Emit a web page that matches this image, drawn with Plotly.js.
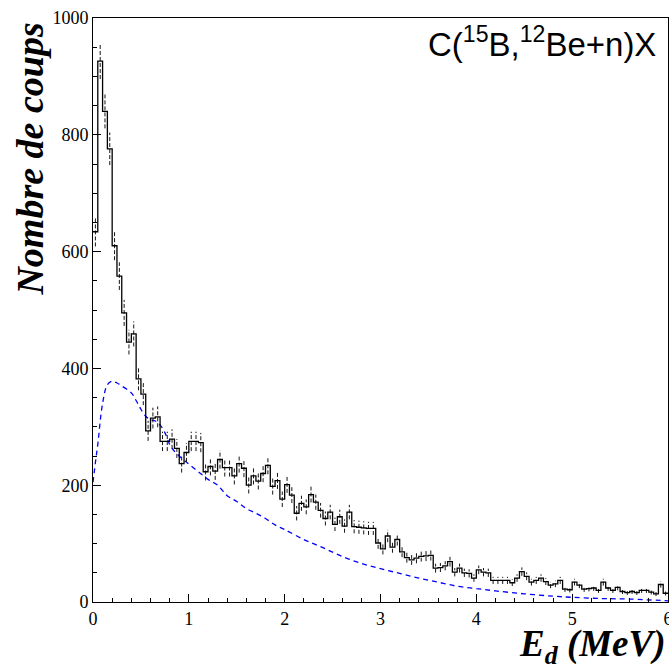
<!DOCTYPE html>
<html>
<head>
<meta charset="utf-8">
<script src="https://cdn.plot.ly/plotly-3.0.1.min.js"></script>
<style>html,body{margin:0;padding:0;background:#fff;}#chart{width:669px;height:671px;}</style>
</head>
<body>
<div id="chart"></div>
<script>
// Histogram: bin width in MeV and counts per bin
const binWidth = 0.05;
const counts = [
  634, 926, 840, 776, 610, 558, 495, 445, 459, 382,
  356, 293, 315, 317, 275, 275, 279, 263, 237, 256,
  275, 275, 273, 223, 232, 224, 244, 230, 230, 216,
  237, 229, 200, 216, 207, 220, 234, 198, 208, 176,
  201, 183, 152, 169, 163, 184, 171, 157, 143, 154,
  133, 146, 130, 154, 129, 128, 127, 126, 126, 101,
  91, 113, 94, 107, 86, 76, 72, 75, 78, 79,
  80, 58, 59, 62, 69, 51, 58, 50, 49, 41,
  55, 51, 50, 37, 37, 37, 37, 33, 41, 52,
  44, 34, 37, 41, 35, 29, 31, 37, 22, 21,
  34, 29, 22, 23, 24, 20, 34, 24, 20, 25,
  18, 16, 18, 16, 20, 20, 17, 14, 30, 15
];
// Blue dashed curve (simulation)
const curveX = [0.0, 0.03, 0.05, 0.1, 0.15, 0.2, 0.25, 0.3, 0.4, 0.45, 0.5, 0.55, 0.6, 0.65, 0.7, 0.75, 0.8, 0.85, 0.9, 1.0,
  1.1, 1.2, 1.3, 1.4, 1.5, 1.6, 1.7, 1.8, 1.9, 2.0, 2.2, 2.4, 2.6, 2.8, 3.0, 3.2, 3.4, 3.6, 3.8, 4.0,
  4.2, 4.5, 4.8, 5.0, 5.3, 5.6, 6.0];
const curveY = [205, 245, 270, 340, 372, 378, 375, 370, 358, 345, 330, 318, 312, 310, 303, 290, 270, 258, 250, 236,
  223, 210, 200, 182, 172, 160, 152, 143, 132, 124, 107, 93, 78, 66, 57, 49, 41, 34, 27, 23,
  19, 14, 10, 8, 6, 5, 2];
// Axis ticks
const xTicks = [0, 1, 2, 3, 4, 5, 6];
const yTicks = [0, 200, 400, 600, 800, 1000];

// Build step outline and error bars from the bins
const edges = counts.map((c, i) => i * binWidth);
edges.push(counts.length * binWidth);
const stepY = counts.slice();
stepY.push(counts[counts.length - 1]);

const errX = [], errY = [];
counts.forEach((c, i) => {
  const xc = (i + 0.5) * binWidth;
  const e = Math.sqrt(c);
  errX.push(xc, xc, null);
  errY.push(c - e, c + e, null);
});

const traces = [
  {x: curveX, y: curveY, type: 'scatter', mode: 'lines',
   line: {color: 'rgb(0,0,255)', width: 1.3, dash: '5px,4px', shape: 'spline'}, hoverinfo: 'skip'},
  {x: errX, y: errY, type: 'scatter', mode: 'lines',
   line: {color: 'rgb(20,20,20)', width: 1, dash: '4px,2px'}, hoverinfo: 'skip'},
  {x: edges, y: stepY, type: 'scatter', mode: 'lines',
   line: {color: 'rgb(0,0,0)', width: 1.3, shape: 'hv'}, hoverinfo: 'skip'}
];

const serif = 'Liberation Serif, Times New Roman, serif';
const layout = {
  width: 669, height: 671,
  margin: {l: 93, r: 1, t: 18, b: 69, pad: 0},
  paper_bgcolor: '#ffffff', plot_bgcolor: '#ffffff',
  showlegend: false,
  xaxis: {
    range: [0, 6], tickvals: xTicks, ticktext: xTicks.map(String),
    ticks: 'inside', ticklen: 8, tickwidth: 1, tickcolor: '#000',
    minor: {dtick: 0.2, ticks: 'inside', ticklen: 4, tickwidth: 1, tickcolor: '#000', showgrid: false},
    showline: true, mirror: true, linecolor: '#000', linewidth: 1,
    showgrid: false, zeroline: false, ticklabeloverflow: 'allow',
    tickfont: {family: serif, size: 18, color: '#000'}
  },
  yaxis: {
    range: [0, 1000], tickvals: yTicks, ticktext: yTicks.map(String),
    ticks: 'inside', ticklen: 8, tickwidth: 1, tickcolor: '#000',
    minor: {dtick: 50, ticks: 'inside', ticklen: 4, tickwidth: 1, tickcolor: '#000', showgrid: false},
    showline: true, mirror: true, linecolor: '#000', linewidth: 1,
    showgrid: false, zeroline: false, ticklabeloverflow: 'allow',
    tickfont: {family: serif, size: 18, color: '#000'}
  },
  annotations: [
    {text: '<b><i>Nombre de coups</i></b>', xref: 'paper', yref: 'paper',
     x: -0.11, y: 0.996, xanchor: 'center', yanchor: 'top', textangle: -90, showarrow: false,
     font: {family: serif, size: 38, color: '#000'}},
    {text: '<b><i>E<sub>d</sub> (MeV)</i></b>', xref: 'paper', yref: 'paper',
     x: 1.0, y: -0.032, xanchor: 'right', yanchor: 'top', showarrow: false,
     font: {family: serif, size: 37, color: '#000'}},
    {text: 'C(<sup>15</sup>B,<sup>12</sup>Be+n)X', xref: 'paper', yref: 'paper',
     x: 0.982, y: 0.998, xanchor: 'right', yanchor: 'top', showarrow: false,
     font: {family: 'Liberation Sans, Arial, sans-serif', size: 33, color: '#000'}}
  ]
};

Plotly.newPlot('chart', traces, layout, {staticPlot: true, displayModeBar: false});
</script>
</body>
</html>
